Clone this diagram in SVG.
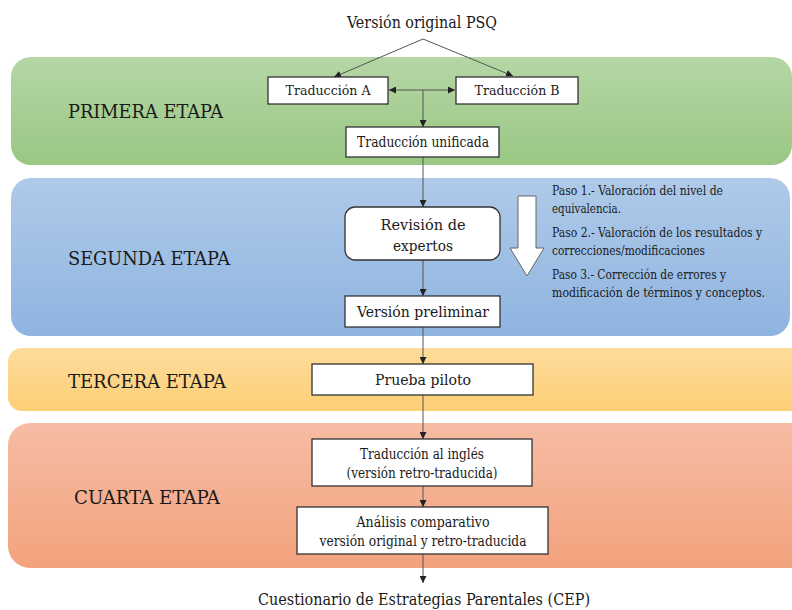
<svg xmlns="http://www.w3.org/2000/svg" width="792" height="610" viewBox="0 0 792 610">
  <defs>
    <linearGradient id="gGreen" x1="0" y1="0" x2="0" y2="1">
      <stop offset="0" stop-color="#b5d6a5"/>
      <stop offset="1" stop-color="#9ac784"/>
    </linearGradient>
    <linearGradient id="gBlue" x1="0" y1="0" x2="0" y2="1">
      <stop offset="0" stop-color="#afcae9"/>
      <stop offset="1" stop-color="#8fb4e0"/>
    </linearGradient>
    <linearGradient id="gYellow" x1="0" y1="0" x2="0" y2="1">
      <stop offset="0" stop-color="#fedc9c"/>
      <stop offset="1" stop-color="#fdcf76"/>
    </linearGradient>
    <linearGradient id="gOrange" x1="0" y1="0" x2="0" y2="1">
      <stop offset="0" stop-color="#f6bca4"/>
      <stop offset="1" stop-color="#f3a27d"/>
    </linearGradient>
    <marker id="arr" viewBox="0 0 8 8" refX="8" refY="4" markerWidth="7" markerHeight="7" markerUnits="userSpaceOnUse" orient="auto-start-reverse">
      <path d="M0,0 L8,4 L0,8 Z" fill="#222"/>
    </marker>
  </defs>
  <style>
    text { fill: #1a1a1a; font-family: "DejaVu Serif Condensed", "DejaVu Serif", serif; font-stretch: condensed; }
    .stage { font-size: 18px; }
    .box { fill: #ffffff; stroke: #333333; stroke-width: 1.3; }
    .lbl { text-anchor: middle; }
    .link { fill: none; stroke: #555555; stroke-width: 1; marker-end: url(#arr); }
    .step { font-size: 12.5px; }
  </style>

  <!-- stage bands -->
  <g id="bands">
    <rect x="11" y="57" width="781" height="108" rx="20" fill="url(#gGreen)"/>
    <rect x="11" y="178" width="779" height="158" rx="20" fill="url(#gBlue)"/>
    <rect x="8" y="348" width="810" height="63" rx="14" fill="url(#gYellow)"/>
    <rect x="8" y="423" width="810" height="145" rx="22" fill="url(#gOrange)"/>
    <text class="stage" x="68" y="118" textLength="155" lengthAdjust="spacingAndGlyphs">PRIMERA ETAPA</text>
    <text class="stage" x="68" y="265" textLength="162" lengthAdjust="spacingAndGlyphs">SEGUNDA ETAPA</text>
    <text class="stage" x="68" y="388" textLength="158" lengthAdjust="spacingAndGlyphs">TERCERA ETAPA</text>
    <text class="stage" x="74" y="504" textLength="146" lengthAdjust="spacingAndGlyphs">CUARTA ETAPA</text>
  </g>

  <!-- connectors -->
  <g id="connectors">
    <path class="link" d="M423,39 L334,77"/>
    <path class="link" d="M423,39 L513,76"/>
    <path class="link" d="M423,90 L389,90"/>
    <path class="link" d="M423,90 L455,90"/>
    <path class="link" d="M423,90 L423,127"/>
    <path class="link" d="M423,157 L423,207"/>
    <path class="link" d="M423,260 L423,296"/>
    <path class="link" d="M423,327 L423,364"/>
    <path class="link" d="M423,395 L423,439"/>
    <path class="link" d="M423,486 L423,507"/>
    <path class="link" d="M423,554 L423,583"/>
  </g>

  <g id="source">
    <text class="lbl" x="422" y="28" font-size="16" textLength="150" lengthAdjust="spacingAndGlyphs">Versión original PSQ</text>
  </g>

  <g id="tradA">
    <rect class="box" x="268" y="77" width="120" height="27"/>
    <text class="lbl" x="328" y="95" font-size="13.5" textLength="85" lengthAdjust="spacingAndGlyphs">Traducción A</text>
  </g>
  <g id="tradB">
    <rect class="box" x="456" y="77" width="122" height="27"/>
    <text class="lbl" x="517" y="95" font-size="13.5" textLength="85" lengthAdjust="spacingAndGlyphs">Traducción B</text>
  </g>
  <g id="tradUnificada">
    <rect class="box" x="346" y="127" width="153" height="30"/>
    <text class="lbl" x="423" y="147" font-size="14" textLength="132" lengthAdjust="spacingAndGlyphs">Traducción unificada</text>
  </g>

  <g id="revision">
    <rect class="box" x="345" y="207" width="155" height="53" rx="10"/>
    <text class="lbl" x="423" y="230" font-size="15.5" textLength="85" lengthAdjust="spacingAndGlyphs">Revisión de</text>
    <text class="lbl" x="423" y="251" font-size="15.5" textLength="60" lengthAdjust="spacingAndGlyphs">expertos</text>
  </g>

  <g id="pasos">
    <polygon points="518,196 536,196 536,248 544,248 527,276 510,248 518,248" fill="#ffffff" stroke="#666666" stroke-width="1"/>
    <text class="step" x="552" y="195" textLength="171" lengthAdjust="spacingAndGlyphs">Paso 1.- Valoración del nivel de</text>
    <text class="step" x="552" y="213" textLength="69" lengthAdjust="spacingAndGlyphs">equivalencia.</text>
    <text class="step" x="552" y="237" textLength="210" lengthAdjust="spacingAndGlyphs">Paso 2.- Valoración de los resultados y</text>
    <text class="step" x="552" y="255" textLength="153" lengthAdjust="spacingAndGlyphs">correcciones/modificaciones</text>
    <text class="step" x="552" y="279" textLength="174" lengthAdjust="spacingAndGlyphs">Paso 3.- Corrección de errores y</text>
    <text class="step" x="552" y="297" textLength="213" lengthAdjust="spacingAndGlyphs">modificación de términos y conceptos.</text>
  </g>

  <g id="preliminar">
    <rect class="box" x="345" y="296" width="155" height="31"/>
    <text class="lbl" x="423" y="317" font-size="15" textLength="132" lengthAdjust="spacingAndGlyphs">Versión preliminar</text>
  </g>

  <g id="piloto">
    <rect class="box" x="312" y="364" width="221" height="31"/>
    <text class="lbl" x="423" y="385" font-size="15" textLength="96" lengthAdjust="spacingAndGlyphs">Prueba piloto</text>
  </g>

  <g id="retro">
    <rect class="box" x="312" y="439" width="220" height="47"/>
    <text class="lbl" x="422" y="459" font-size="14" textLength="124" lengthAdjust="spacingAndGlyphs">Traducción al inglés</text>
    <text class="lbl" x="422" y="478" font-size="14" textLength="151" lengthAdjust="spacingAndGlyphs">(versión retro-traducida)</text>
  </g>

  <g id="analisis">
    <rect class="box" x="297" y="507" width="251" height="47"/>
    <text class="lbl" x="423" y="527" font-size="14" textLength="133" lengthAdjust="spacingAndGlyphs">Análisis comparativo</text>
    <text class="lbl" x="423" y="546" font-size="14" textLength="207" lengthAdjust="spacingAndGlyphs">versión original y retro-traducida</text>
  </g>

  <g id="result">
    <text class="lbl" x="424" y="605" font-size="16" textLength="332" lengthAdjust="spacingAndGlyphs">Cuestionario de Estrategias Parentales (CEP)</text>
  </g>
</svg>
